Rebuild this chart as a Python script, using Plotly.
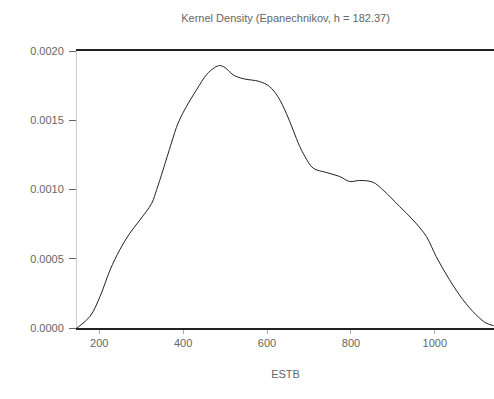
import plotly.graph_objects as go

estb = [147, 178, 202, 226, 249, 273, 297, 325, 337, 352, 372, 388, 408, 432, 456,
        475, 487, 500, 519, 543, 582, 606, 626, 646, 662, 678, 690, 710, 741, 773,
        797, 821, 852, 876, 916, 948, 980, 1003, 1035, 1067, 1098, 1122, 1140]
density = [0.0, 0.000084, 0.000228, 0.00042, 0.000565, 0.000685, 0.00078, 0.0009,
           0.001, 0.00114, 0.001335, 0.00148, 0.0016, 0.00172, 0.00183, 0.00188,
           0.001895, 0.00188, 0.001828, 0.0018, 0.00178, 0.001743, 0.00167, 0.00155,
           0.00143, 0.00131, 0.00124, 0.001154, 0.001123, 0.001094, 0.001058,
           0.001065, 0.001053, 0.000998, 0.000877, 0.00078, 0.00066, 0.000517,
           0.000348, 0.000204, 0.000096, 0.000036, 0.000017]
x_ticks = [200, 400, 600, 800, 1000]
y_ticks = [0.0, 0.0005, 0.0010, 0.0015, 0.0020]

gray = "#666666"
font = dict(family="Liberation Sans, Arial, sans-serif", size=11, color=gray)

fig = go.Figure(go.Scatter(x=estb, y=density, mode="lines",
                           line=dict(color="#222222", width=1, shape="spline"),
                           hoverinfo="skip"))
fig.update_layout(
    width=494, height=399,
    margin=dict(l=77, r=0, t=51, b=71),
    paper_bgcolor="white", plot_bgcolor="white",
    showlegend=False,
    font=font,
    title=dict(text="Kernel Density (Epanechnikov, h = 182.37)",
               x=0.578, xanchor="center", y=0.955, yanchor="middle",
               font=dict(size=11, color=gray)),
)
fig.update_xaxes(range=[147, 1141], tickvals=x_ticks, ticks="outside", ticklen=4,
                 tickcolor="#aaaaaa", tickfont=dict(size=11, color=gray),
                 showgrid=False, zeroline=False,
                 showline=True, linecolor="#222222", linewidth=1.5, mirror=True,
                 title=dict(text="ESTB", standoff=22, font=dict(size=11, color=gray)))
fig.update_yaxes(range=[0, 0.002], tickvals=y_ticks, tickformat=".4f",
                 ticks="outside", ticklen=7, tickcolor=gray,
                 tickfont=dict(size=11, color=gray), ticklabelstandoff=3,
                 showgrid=False, zeroline=False,
                 showline=True, linecolor="#cccccc", linewidth=1)
fig.write_html("out.html", config={"displayModeBar": False},
               post_script="document.body.style.margin='0';")
